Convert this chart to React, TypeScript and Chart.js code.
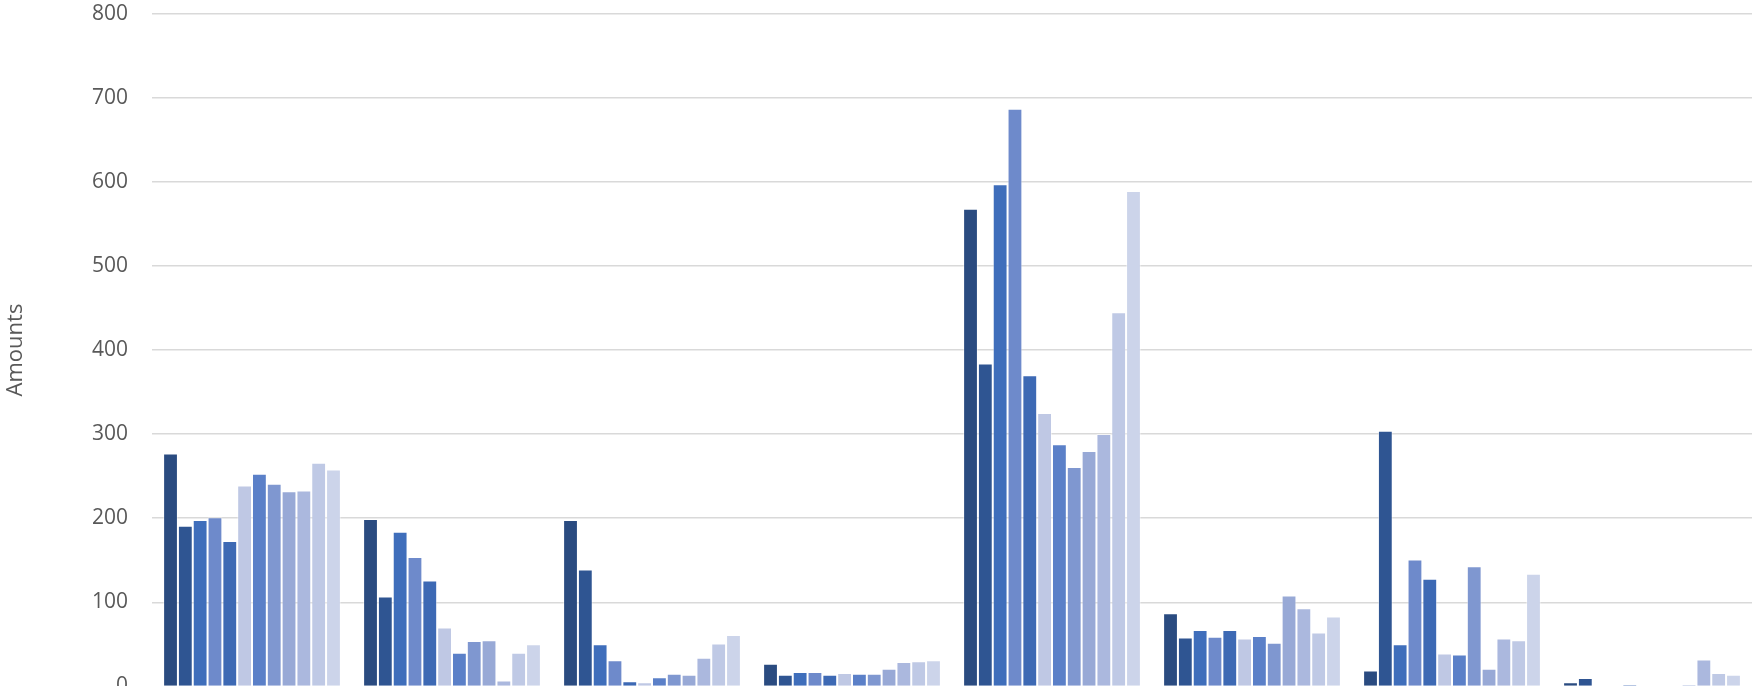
import React, { useEffect, useRef } from "react";
import { Chart, registerables } from "chart.js";

Chart.register(...registerables);

const categories = ["Group 1", "Group 2", "Group 3", "Group 4", "Group 5", "Group 6", "Group 7", "Group 8"];

const seriesNames = ["Jan", "Feb", "Mar", "Apr", "May", "Jun", "Jul", "Aug", "Sep", "Oct", "Nov", "Dec"];

const seriesColors = [
  "#2a4b80", "#2f5592", "#3f6ebb", "#6e8acb", "#3d69b4", "#bfc8e4",
  "#5b80c8", "#7f97d0", "#98a9d6", "#abb8de", "#bfc9e5", "#ccd4ea",
];

const group1 = [277, 191, 198, 201, 173, 239, 253, 241, 232, 233, 266, 258];
const group2 = [199, 107, 184, 154, 126, 70, 40, 54, 55, 7, 40, 50];
const group3 = [198, 139, 50, 31, 6, 5, 11, 15, 14, 34, 51, 61];
const group4 = [27, 14, 17, 17, 14, 16, 15, 15, 21, 29, 30, 31];
const group5 = [568, 384, 597, 687, 370, 325, 288, 261, 280, 300, 445, 589];
const group6 = [87, 58, 67, 59, 67, 57, 60, 52, 108, 93, 64, 83];
const group7 = [19, 304, 50, 151, 128, 39, 38, 143, 21, 57, 55, 134];
const group8 = [5, 10, 0, 0, 2, 0, 0, 0, 2, 32, 16, 14];

const groups = [group1, group2, group3, group4, group5, group6, group7, group8];

const yTicks = [0, 100, 200, 300, 400, 500, 600, 700, 800];

export default function App() {
  const canvasRef = useRef<HTMLCanvasElement | null>(null);

  useEffect(() => {
    const canvas = canvasRef.current;
    if (!canvas) return;
    const datasets = seriesNames.map((name, i) => ({
      label: name,
      data: groups.map((g) => g[i]),
      backgroundColor: seriesColors[i],
      borderColor: "rgba(255,255,255,0.45)",
      borderWidth: 1,
      categoryPercentage: 12 / 13.5,
      barPercentage: 1,
    }));
    const chart = new Chart(canvas, {
      type: "bar",
      data: { labels: categories, datasets },
      options: {
        responsive: false,
        animation: false,
        maintainAspectRatio: false,
        layout: { padding: { top: 13, right: 0, bottom: 33, left: 0 } },
        plugins: { legend: { display: false }, tooltip: { enabled: false }, title: { display: false } },
        scales: {
          x: {
            display: false,
            grid: { display: false },
          },
          y: {
            min: yTicks[0],
            max: yTicks[yTicks.length - 1],
            afterFit: (scale: any) => {
              scale.width = 152;
            },
            afterBuildTicks: (scale: any) => {
              scale.ticks = yTicks.map((v) => ({ value: v }));
            },
            ticks: {
              color: "#595959",
              font: { family: "Open Sans", size: 21 },
              padding: 24,
            },
            grid: {
              color: "#d9d9d9",
              lineWidth: 1.5,
              drawTicks: false,
            },
            border: { display: false },
            title: {
              display: true,
              text: "Amounts",
              color: "#595959",
              font: { family: "Open Sans", size: 22 },
              padding: { top: 3, bottom: 0 },
            },
          },
        },
      },
    });
    return () => chart.destroy();
  }, []);

  return (
    <div style={{ position: "fixed", left: 0, top: -23, width: 1752, height: 746, background: "#ffffff" }}>
      <canvas ref={canvasRef} width={1752} height={746} style={{ width: 1752, height: 746, display: "block" }} />
    </div>
  );
}
